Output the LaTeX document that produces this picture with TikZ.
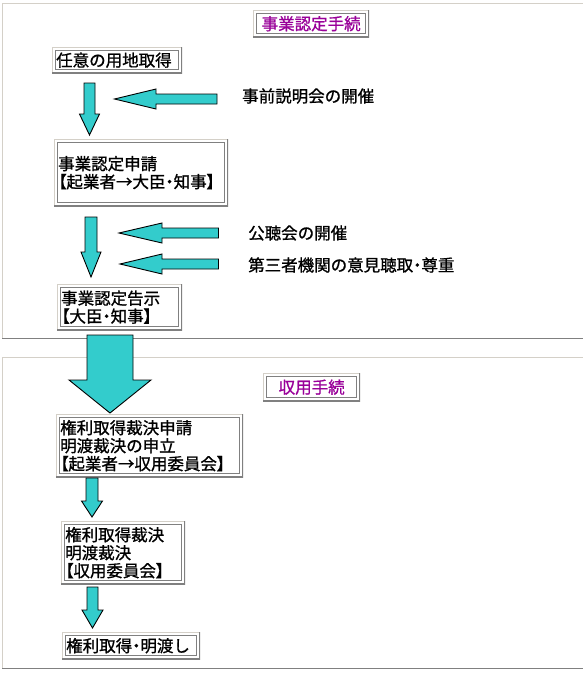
\documentclass[tikz,border=0pt]{standalone}
\usepackage{fontspec}
\newfontfamily\jp[FakeBold=1]{Noto Sans CJK JP}
\newfontfamily\jpp[FakeBold=1,RawFeature=+palt]{Noto Sans CJK JP}
\newcommand\pp[1]{{\jpp #1}}
\definecolor{tq}{RGB}{51,204,204}
\definecolor{lg}{RGB}{212,208,200}
\definecolor{dg}{RGB}{128,128,128}
\definecolor{pu}{RGB}{153,0,153}
\newcommand\darr[6]{\draw[arr] (#1-#2,#3) -- (#1+#2,#3) -- (#1+#2,#4) -- (#1+#5,#4) -- (#1,#6) -- (#1-#5,#4) -- (#1-#2,#4) -- cycle;}
\newcommand\larr[4]{\draw[arr] (#1,#4) -- (#2,#4-10) -- (#2,#4-5) -- (#3,#4-5) -- (#3,#4+5) -- (#2,#4+5) -- (#2,#4+10) -- cycle;}
\begin{document}
\begin{tikzpicture}[x=1pt,y=-1pt,
  jpf/.style={font=\jp\fontsize{16.5}{18}\selectfont},
  box/.style={jpf, anchor=north west, inner xsep=4pt, inner ysep=0pt, align=left, fill=white,
    path picture={
      \path (path picture bounding box.north west) coordinate (pa)
            (path picture bounding box.south east) coordinate (pb);
      \draw[lg,line width=2pt] (pa|-pb) -- (pa) -- (pa-|pb);
      \draw[dg,line width=2pt] (pa-|pb) -- (pb) -- (pa|-pb);
      \draw[dg,line width=1pt] ([shift={(3.5pt,-3.5pt)}]pa) rectangle ([shift={(-3.5pt,3.5pt)}]pb);
    }},
  title/.style={box, align=center, text=pu},
  lbl/.style={jpf, anchor=west, inner sep=0pt},
  arr/.style={fill=tq, draw=black, line width=0.9pt, line join=miter}]
\useasboundingbox (0,0) rectangle (583,673);
% panels
\draw[lg,line width=1pt] (2,338) -- (2,3) -- (583,3);
\draw[dg,line width=1pt] (2,338.5) -- (583,338.5);
\draw[lg,line width=1pt] (2,668) -- (2,357) -- (583,357);
\draw[dg,line width=1pt] (2,668.5) -- (583,668.5);
% titles
\node[title, minimum width=116pt, minimum height=27pt, text width=108pt] (t1) at (253,10) {事業認定手続};
\node[title, minimum width=97pt, minimum height=28pt, text width=89pt] (t2) at (263,373) {収用手続};
% boxes
\node[box, minimum width=130pt, minimum height=26pt, text width=122pt] (b1) at (52,47) {任意の用地取得};
\node[box, minimum width=174pt, minimum height=67pt, text width=166pt] (b2) at (54,139) {事業認定申請\\\pp{【}起業者\pp{→}大臣\pp{・}知事\pp{】}};
\node[box, minimum width=125pt, minimum height=46pt, text width=117pt] (b3) at (57,284) {事業認定告示\\\pp{【}大臣\pp{・}知事\pp{】}};
\node[box, minimum width=187pt, minimum height=63pt, text width=179pt] (b4) at (56,414) {権利取得裁決申請\\明渡裁決の申立\\\pp{【}起業者\pp{→}収用委員会\pp{】}};
\node[box, minimum width=124pt, minimum height=63pt, text width=116pt] (b5) at (61,521) {権利取得裁決\\明渡裁決\\\pp{【}収用委員会\pp{】}};
\node[box, minimum width=138pt, minimum height=27pt, text width=130pt] (b6) at (62,632) {権利取得\pp{・}明渡し};
% side labels
\node[lbl] (s1) at (242,96) {事前説明会の開催};
\node[lbl] (s2) at (248,233) {公聴会の開催};
\node[lbl] (s3) at (248,265) {第三者機関の意見聴取\pp{・}尊重};
% down arrows
\darr{89.5}{5.5}{83}{114}{10}{135}
\darr{91}{6}{217}{252}{10}{277}
\darr{110}{23}{335}{380}{41}{413}
\darr{92}{6}{478}{501}{10.5}{517}
\darr{92.5}{5.5}{587}{610}{10.5}{628}
% left arrows
\larr{114.5}{156}{217}{99}
\larr{119}{162}{218.5}{233}
\larr{120}{162}{218.5}{264}
\end{tikzpicture}
\end{document}
